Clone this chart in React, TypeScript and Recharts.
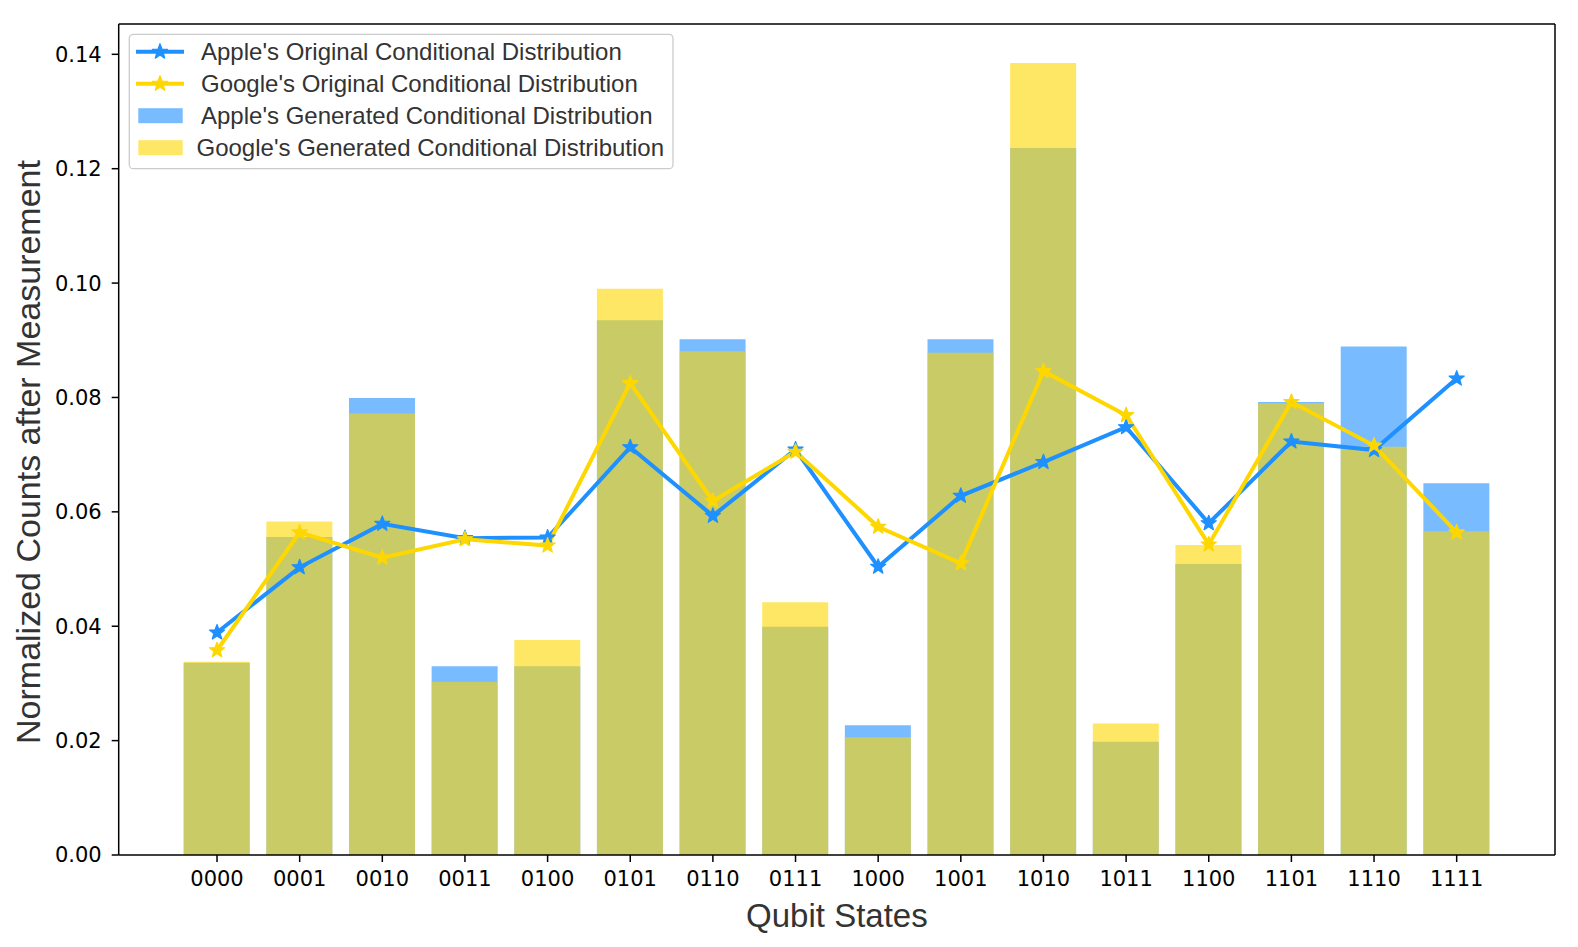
import React from "react";
import { ComposedChart, Bar, Line, XAxis, YAxis } from "recharts";

const states = ["0000","0001","0010","0011","0100","0101","0110","0111","1000","1001","1010","1011","1100","1101","1110","1111"];
const appleGenerated = [0.0336,0.0556,0.0799,0.0330,0.0330,0.0935,0.0902,0.0399,0.0227,0.0902,0.1236,0.0198,0.0509,0.0792,0.0889,0.0650];
const googleGenerated = [0.0338,0.0583,0.0772,0.0303,0.0376,0.0990,0.0881,0.0442,0.0206,0.0878,0.1385,0.0230,0.0542,0.0790,0.0714,0.0566];
const appleOriginal = [0.0389,0.0503,0.0579,0.0554,0.0555,0.0713,0.0593,0.0709,0.0504,0.0628,0.0687,0.0748,0.0580,0.0723,0.0708,0.0833];
const googleOriginal = [0.0358,0.0564,0.0520,0.0552,0.0541,0.0825,0.0619,0.0705,0.0574,0.0510,0.0846,0.0769,0.0543,0.0792,0.0716,0.0564];
const yTicks = [0, 0.02, 0.04, 0.06, 0.08, 0.10, 0.12, 0.14];
const yDomain = [0, 0.1453];

const legendItems = [
  { label: "Apple's Original Conditional Distribution", kind: "line", color: "#1E90FF" },
  { label: "Google's Original Conditional Distribution", kind: "line", color: "#FFD700" },
  { label: "Apple's Generated Conditional Distribution", kind: "patch", color: "#1E90FF" },
  { label: "Google's Generated Conditional Distribution", kind: "patch", color: "#FFD700" },
];

const data = states.map((s, i) => ({
  state: s,
  appleGen: appleGenerated[i],
  googleGen: googleGenerated[i],
  appleOrig: appleOriginal[i],
  googleOrig: googleOriginal[i],
}));

const BLUE = "#1E90FF";
const GOLD = "#FFD700";
const SANS = "'Liberation Sans', Arial, sans-serif";
const DEJAVU = "'DejaVu Sans', sans-serif";

function starPoints(cx: number, cy: number, R: number) {
  const r = R * 0.42;
  const pts: string[] = [];
  for (let k = 0; k < 10; k++) {
    const ang = -Math.PI / 2 + (k * Math.PI) / 5;
    const rad = k % 2 === 0 ? R : r;
    pts.push(`${cx + rad * Math.cos(ang)},${cy + rad * Math.sin(ang)}`);
  }
  return pts.join(" ");
}

const makeDot = (color: string) => (p: any) => {
  if (p.cx == null || p.cy == null) return <g key={`e-${p.index}`} />;
  return (
    <polygon
      key={`s-${color}-${p.index}`}
      points={starPoints(p.cx, p.cy, 8)}
      fill={color}
      stroke={color}
      strokeWidth={1.2}
      strokeLinejoin="round"
    />
  );
};

export default function App() {
  const W = 1578;
  const H = 947;
  const axisStroke = { stroke: "#000", strokeWidth: 1.5 };
  return (
    <div style={{ position: "absolute", left: 0, top: 0, width: W, height: H, background: "#fff" }}>
      <ComposedChart
        width={W}
        height={H}
        data={data}
        margin={{ top: 23, right: 22, bottom: 32, left: 8.7 }}
      >
        <XAxis
          xAxisId="a"
          dataKey="state"
          type="category"
          interval={0}
          padding={{ left: 57, right: 57 }}
          height={60}
          tickSize={7}
          tickMargin={9}
          tick={{ fill: "#000", fontSize: 21, fontFamily: DEJAVU }}
          axisLine={axisStroke}
          tickLine={axisStroke}
        />
        <XAxis
          xAxisId="b"
          dataKey="state"
          type="category"
          orientation="top"
          padding={{ left: 57, right: 57 }}
          height={1}
          tick={false}
          tickLine={false}
          axisLine={axisStroke}
        />
        <YAxis
          yAxisId="l"
          type="number"
          domain={yDomain}
          ticks={yTicks}
          interval={0}
          width={110}
          tickSize={7}
          tickMargin={10}
          tickFormatter={(v: number) => v.toFixed(2)}
          tick={{ fill: "#000", fontSize: 21, fontFamily: DEJAVU }}
          axisLine={axisStroke}
          tickLine={axisStroke}
        />
        <YAxis
          yAxisId="r"
          type="number"
          orientation="right"
          domain={yDomain}
          width={1}
          tick={false}
          tickLine={false}
          axisLine={axisStroke}
        />
        <Bar xAxisId="a" yAxisId="l" dataKey="appleGen" fill={BLUE} fillOpacity={0.6} barSize={66} isAnimationActive={false} />
        <Bar xAxisId="b" yAxisId="l" dataKey="googleGen" fill={GOLD} fillOpacity={0.6} barSize={66} isAnimationActive={false} />
        <Line
          xAxisId="a"
          yAxisId="l"
          type="linear"
          dataKey="appleOrig"
          stroke={BLUE}
          strokeWidth={4}
          dot={makeDot(BLUE)}
          activeDot={false}
          isAnimationActive={false}
        />
        <Line
          xAxisId="a"
          yAxisId="l"
          type="linear"
          dataKey="googleOrig"
          stroke={GOLD}
          strokeWidth={4}
          dot={makeDot(GOLD)}
          activeDot={false}
          isAnimationActive={false}
        />
      </ComposedChart>
      <svg
        width={W}
        height={H}
        style={{ position: "absolute", left: 0, top: 0, pointerEvents: "none" }}
      >
        <text x={836.9} y={927.3} textAnchor="middle" fontFamily={SANS} fontSize={33} fill="#333">
          Qubit States
        </text>
        <text
          x={40}
          y={452}
          transform="rotate(-90 40 452)"
          textAnchor="middle"
          fontFamily={SANS}
          fontSize={34}
          fill="#333"
        >
          Normalized Counts after Measurement
        </text>
        <rect x={129.3} y={34.3} width={543.7} height={134.4} rx={4} ry={4} fill="#fff" fillOpacity={0.8} stroke="#cccccc" strokeWidth={1.3} />
        {legendItems.map((it, i) => {
          const cy = 51.7 + i * 32;
          const tx = i === 3 ? 196.5 : 201;
          return (
            <g key={it.label}>
              {it.kind === "line" ? (
                <g>
                  <line x1={136} y1={cy} x2={184} y2={cy} stroke={it.color} strokeWidth={4} />
                  <polygon points={starPoints(160, cy, 8)} fill={it.color} stroke={it.color} strokeWidth={1.2} strokeLinejoin="round" />
                </g>
              ) : (
                <rect x={138.3} y={cy - 7.5} width={44.4} height={15} fill={it.color} fillOpacity={0.6} />
              )}
              <text x={tx} y={cy + 8.5} fontFamily={SANS} fontSize={24} fill="#333">
                {it.label}
              </text>
            </g>
          );
        })}
      </svg>
    </div>
  );
}
